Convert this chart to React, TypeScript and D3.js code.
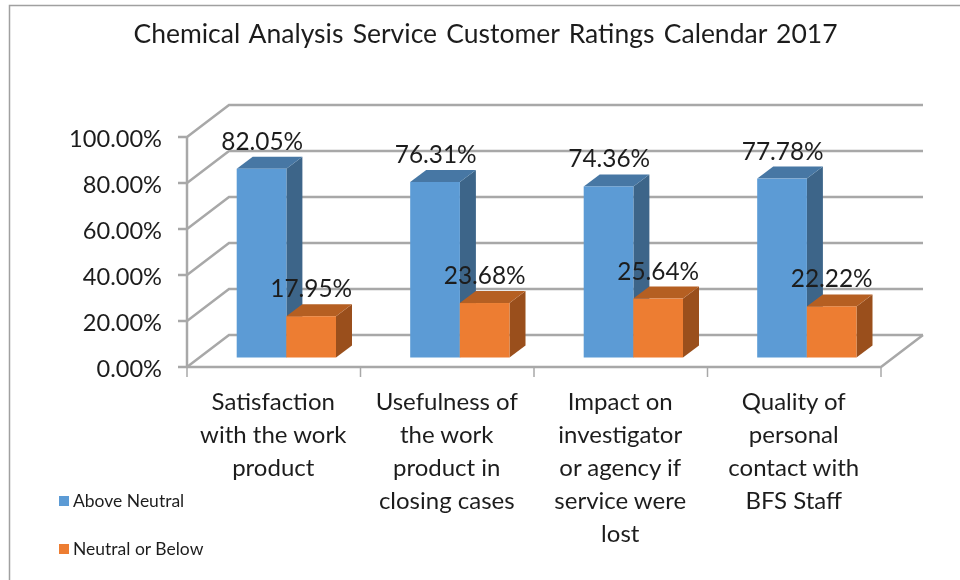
import React from "react";
import * as d3 from "d3";

const title = "Chemical Analysis Service Customer Ratings Calendar 2017";
const categories = [
  ["Satisfaction", "with the work", "product"],
  ["Usefulness of", "the work", "product in", "closing cases"],
  ["Impact on", "investigator", "or agency if", "service were", "lost"],
  ["Quality of", "personal", "contact with", "BFS Staff"],
];
const aboveNeutral = [82.05, 76.31, 74.36, 77.78];
const neutralOrBelow = [17.95, 23.68, 25.64, 22.22];
const aboveLabels = ["82.05%", "76.31%", "74.36%", "77.78%"];
const belowLabels = ["17.95%", "23.68%", "25.64%", "22.22%"];
const yTicks = [0, 20, 40, 60, 80, 100];
const seriesNames = ["Above Neutral", "Neutral or Below"];
const colors = {
  blue: "#5b9bd5", blueTop: "#4677a4", blueSide: "#3c6589",
  orange: "#ed7d31", orangeTop: "#b55f24", orangeSide: "#9a501d",
};
const font = "Lato, 'Open Sans', sans-serif";
const textColor = "#1f1f1f";
const grid = "#a8a8a8";

const floorDx = 42, floorDy = -32;
const x = d3.scaleLinear().domain([0, 4]).range([187, 881]);
const y = d3.scaleLinear().domain([0, 100]).range([367, 137]);
const barY = (v: number) => y(v) - 9.5;
const barDx = 16, barDy = -12;
const barW = 49.7;
const barOffset = 49.6;

function Bar({ x0, v, front, top, side }: { x0: number; v: number; front: string; top: string; side: string }) {
  const yt = barY(v), yb = barY(0), x1 = x0 + barW;
  const pts = (a: number[][]) => a.map((p) => p.join(",")).join(" ");
  return (
    <g>
      <polygon points={pts([[x1, yt], [x1 + barDx, yt + barDy], [x1 + barDx, yb + barDy], [x1, yb]])} fill={side} />
      <polygon points={pts([[x0, yt], [x0 + barDx, yt + barDy], [x1 + barDx, yt + barDy], [x1, yt]])} fill={top} />
      <rect x={x0} y={yt} width={barW} height={yb - yt} fill={front} />
    </g>
  );
}

export default function App() {
  return (
    <svg width={960} height={580} style={{ position: "absolute", left: 0, top: 0, background: "#fff" }}>
      <defs>
        <filter id="soft" x="-5%" y="-5%" width="110%" height="110%">
          <feGaussianBlur stdDeviation="0.45" />
        </filter>
      </defs>
      <g filter="url(#soft)">
        <path d="M960,5.5 H9.5 V580" fill="none" stroke="#a0a0a0" strokeWidth={1.5} />
        <text x={485.5} y={43} textAnchor="middle" fontFamily={font} fontSize={26.5} wordSpacing={2.5} fill={textColor}>{title}</text>

        {yTicks.map((t) => (
          <g key={t} stroke={grid} strokeWidth={2.5} fill="none">
            <path d={`M178,${y(t)} H${x(0)} L${x(0) + floorDx},${y(t) + floorDy} H${x(4) + floorDx}`} />
          </g>
        ))}
        <path d={`M${x(0)},${y(0)} V${y(100)}`} stroke={grid} strokeWidth={2.5} fill="none" />
        <path d={`M${x(0)},${y(0)} H${x(4)} L${x(4) + floorDx},${y(0) + floorDy}`} stroke={grid} strokeWidth={2.5} fill="none" />
        {d3.range(5).map((i) => (
          <line key={i} x1={x(i)} x2={x(i)} y1={y(0)} y2={377} stroke={grid} strokeWidth={1.5} />
        ))}

        {yTicks.map((t) => (
          <text key={t} x={162} y={y(t) + 9.5} textAnchor="end" fontFamily={font} fontSize={23.6} fill={textColor}>
            {t.toFixed(2)}%
          </text>
        ))}

        {categories.map((_, i) => {
          const x0 = x(i) + 49.7;
          return (
            <g key={i}>
              <Bar x0={x0} v={aboveNeutral[i]} front={colors.blue} top={colors.blueTop} side={colors.blueSide} />
              <Bar x0={x0 + barOffset} v={neutralOrBelow[i]} front={colors.orange} top={colors.orangeTop} side={colors.orangeSide} />
            </g>
          );
        })}

        {categories.map((_, i) => {
          const x0 = x(i) + 49.7;
          return (
            <g key={i} fontFamily={font} fontSize={24.4} fill={textColor} textAnchor="middle">
              <text x={x0 + 25.5} y={barY(aboveNeutral[i]) - 19}>{aboveLabels[i]}</text>
              <text x={x0 + 74.5} y={barY(neutralOrBelow[i]) - 19}>{belowLabels[i]}</text>
            </g>
          );
        })}

        {categories.map((lines, i) => (
          <text key={i} textAnchor="middle" fontFamily={font} fontSize={24} fill={textColor}>
            {lines.map((l, j) => (
              <tspan key={j} x={(x(i) + x(i + 1)) / 2 - 0.5} y={410 + j * 33}>{l}</tspan>
            ))}
          </text>
        ))}

        {seriesNames.map((n, i) => (
          <g key={n}>
            <rect x={59} y={496 + i * 48} width={10} height={10} fill={i === 0 ? colors.blue : colors.orange} />
            <text x={73} y={507 + i * 48} fontFamily={font} fontSize={17.5} fill={textColor}>{n}</text>
          </g>
        ))}
      </g>
    </svg>
  );
}
